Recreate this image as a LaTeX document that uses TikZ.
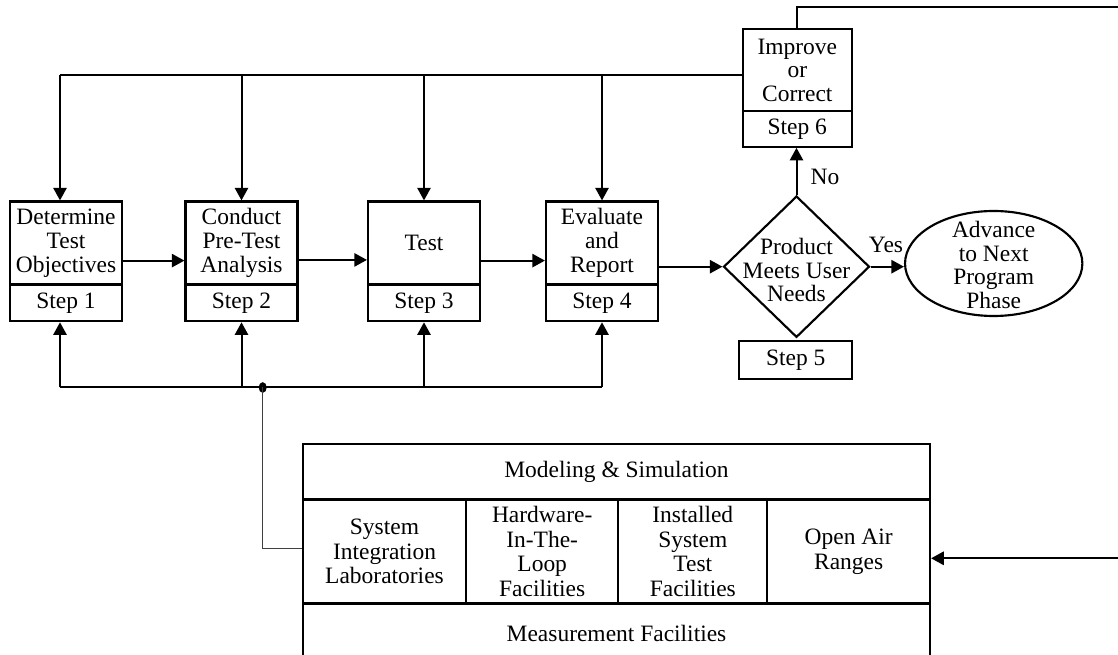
\documentclass[tikz,border=0pt]{standalone}
\usepackage{fontspec}
\setmainfont{Liberation Serif}
\usetikzlibrary{shapes.geometric,arrows.meta}
\begin{document}
\begin{tikzpicture}[x=0.75pt,y=-0.75pt,
  txt/.style={font=\fontsize{17.6}{17.8}\selectfont, align=center, inner sep=0pt},
  tabtxt/.style={font=\fontsize{17.6}{18.4}\selectfont, align=center, inner sep=0pt},
  ubox/.style={txt, draw, line width=1.6pt, minimum width=84pt, minimum height=62.25pt},
  sbox/.style={txt, draw, line width=1.6pt, minimum width=84pt, minimum height=27.75pt},
  cell/.style={tabtxt, draw, line width=1.6pt},
  conn/.style={line width=1.5pt},
  arr/.style={conn, -{Triangle[length=9.5pt,width=10pt]}},
  feed/.style={line width=1pt, black!75}
]
\useasboundingbox (0,0) rectangle (1118,655);
\clip (0,0) rectangle (1118,655);

% the four test steps
\node[ubox] (b1) at (66,243) {Determine\\Test\\Objectives};
\node[sbox] (s1) at (66,302.75) {Step 1};
\node[ubox] (b2) at (241.5,243) {Conduct\\Pre-Test\\Analysis};
\node[sbox] (s2) at (241.5,302.75) {Step 2};
\node[ubox] (b3) at (424,243) {Test};
\node[sbox] (s3) at (424,302.75) {Step 3};
\node[ubox] (b4) at (602,243) {Evaluate\\and\\Report};
\node[sbox] (s4) at (602,302.75) {Step 4};

% decision
\node[diamond, draw, line width=1.6pt, inner sep=0pt,
      minimum width=109.5pt, minimum height=106pt] (d) at (796.5,266.7) {};
\node[txt] (dt) at (796.5,270) {Product\\Meets User\\Needs};
\node[sbox, minimum width=84.5pt, minimum height=28.7pt] (s5) at (795.7,359.9) {Step 5};

% improve / correct
\node[ubox, minimum width=81.75pt, minimum height=61.3pt] (b6) at (797.3,70.2) {Improve\\or\\Correct};
\node[sbox, minimum width=81.75pt, minimum height=26.8pt] (s6) at (797.3,128.9) {Step 6};

% next phase
\node[ellipse, draw, line width=1.6pt, inner sep=0pt,
      minimum width=133pt, minimum height=78.75pt] (e) at (993.7,263.5) {};
\node[txt] (et) at (993.7,265) {Advance\\to Next\\Program\\Phase};

% test resources
\node[cell, minimum width=470.25pt, minimum height=41.6pt] (ms) at (616.5,471.75) {Modeling \& Simulation};
\node[cell, minimum width=122.25pt, minimum height=78pt] (c1) at (384.5,551.5) {System\\Integration\\Laboratories};
\node[cell, minimum width=114.2pt, minimum height=78pt] (c2) at (542.2,551.5) {Hardware-\\In-The-\\Loop\\Facilities};
\node[cell, minimum width=111.75pt, minimum height=78pt] (c3) at (692.8,551.5) {Installed\\System\\Test\\Facilities};
\node[cell, minimum width=122pt, minimum height=78pt] (c4) at (848.7,551.5) {Open Air\\Ranges};
\node[cell, minimum width=470.25pt, minimum height=44.6pt] (mf) at (616.5,633.25) {Measurement Facilities};

% forward flow
\draw[arr] ([yshift=-13.2pt]b1.east) -- ([yshift=-13.2pt]b2.west);
\draw[arr] ([yshift=-12.7pt]b2.east) -- ([yshift=-12.7pt]b3.west);
\draw[arr] ([yshift=-13.2pt]b3.east) -- ([yshift=-13.2pt]b4.west);
\draw[arr] (b4.east |- d.west) -- (d.west);
\draw[arr] (d.east) -- (d.east -| e.west);
\draw[arr] (d.north) -- (d.north |- s6.south);
\node[txt] (no) at (825,177) {No};
\node[txt] (yes) at (886,245) {Yes};

% correction feedback to every step
\coordinate (top) at (60,75);
\draw[conn] (top) -- (top -| b6.west);
\draw[arr] (top) -- (top |- b1.north);
\draw[arr] (top -| b2.north) -- (b2.north);
\draw[arr] (top -| b3.north) -- (b3.north);
\draw[arr] (top -| b4.north) -- (b4.north);

% resources feeding every step
\coordinate (bot) at (60,387.5);
\coordinate (jn) at (262.7,387.5);
\draw[conn] (bot) -- (bot -| s4.south);
\draw[arr] (bot) -- (bot |- s1.south);
\draw[arr] (bot -| s2.south) -- (s2.south);
\draw[arr] (bot -| s3.south) -- (s3.south);
\draw[arr] (bot -| s4.south) -- (s4.south);
\fill (jn) ellipse [x radius=3pt, y radius=4pt];
\draw[feed] (jn) |- ([yshift=2.4pt]c1.west);

% correction loop back to the ranges
\coordinate (rc) at (1125,7.3);
\draw[arr] (b6.north) |- (rc) |- ([yshift=-5.1pt]c4.east);
\end{tikzpicture}
\end{document}
